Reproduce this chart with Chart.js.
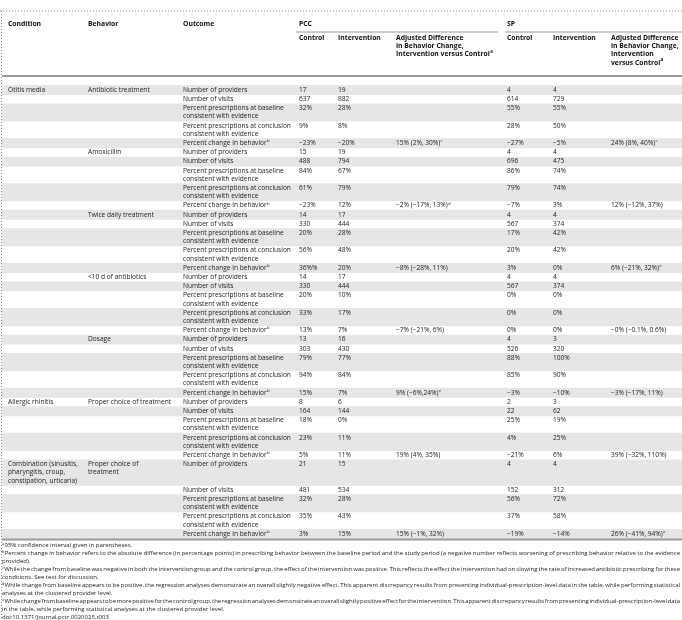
<!DOCTYPE html>
<html>
<head>
<meta charset="utf-8">
<script src="https://cdn.jsdelivr.net/npm/chart.js@4.4.1/dist/chart.umd.min.js"></script>
<style>
  html, body { margin: 0; padding: 0; background: #fff; }
  canvas { display: block; }
</style>
</head>
<body>
<canvas id="table" width="682" height="620"></canvas>
<script>
// table content, one entry per behavior block
const conditions = ['Otitis media', '', '', '', '', 'Allergic rhinitis', 'Combination (sinusitis,\npharyngitis, croup,\nconstipation, urticaria)'];
const behaviors = ['Antibiotic treatment', 'Amoxicillin', 'Twice daily treatment', '<10 d of antibiotics', 'Dosage', 'Proper choice of treatment', 'Proper choice of\ntreatment'];
const outcomes = [
  'Number of providers',
  'Number of visits',
  'Percent prescriptions at baseline\nconsistent with evidence',
  'Percent prescriptions at conclusion\nconsistent with evidence',
  'Percent change in behavior^b'
];
const pccControl = [
  ['17', '637', '32%', '9%', '\u221223%'],
  ['15', '488', '84%', '61%', '\u221223%'],
  ['14', '330', '20%', '56%', '36%%'],
  ['14', '330', '20%', '33%', '13%'],
  ['13', '303', '79%', '94%', '15%'],
  ['8', '164', '18%', '23%', '5%'],
  ['21', '481', '32%', '35%', '3%']
];
const pccIntervention = [
  ['19', '882', '28%', '8%', '\u221220%'],
  ['19', '794', '67%', '79%', '12%'],
  ['17', '444', '28%', '48%', '20%'],
  ['17', '444', '10%', '17%', '7%'],
  ['16', '430', '77%', '84%', '7%'],
  ['6', '144', '0%', '11%', '11%'],
  ['15', '534', '28%', '43%', '15%']
];
const pccAdjusted = [
  '15% (2%, 30%)^c', '\u22122% (\u221217%, 13%)^d', '\u22128% (\u221228%, 11%)', '\u22127% (\u221221%, 6%)',
  '9% (\u22126%,24%)^e', '19% (4%, 35%)', '15% (\u22121%, 32%)'
];
const spControl = [
  ['4', '614', '55%', '28%', '\u221227%'],
  ['4', '696', '86%', '79%', '\u22127%'],
  ['4', '567', '17%', '20%', '3%'],
  ['4', '567', '0%', '0%', '0%'],
  ['4', '526', '88%', '85%', '\u22123%'],
  ['2', '22', '25%', '4%', '\u221221%'],
  ['4', '152', '56%', '37%', '\u221219%']
];
const spIntervention = [
  ['4', '729', '55%', '50%', '\u22125%'],
  ['4', '475', '74%', '74%', '3%'],
  ['4', '374', '42%', '42%', '0%'],
  ['4', '374', '0%', '0%', '0%'],
  ['3', '320', '100%', '90%', '\u221210%'],
  ['3', '62', '19%', '25%', '6%'],
  ['4', '312', '72%', '58%', '\u221214%']
];
const spAdjusted = [
  '24% (8%, 40%)^c', '12% (\u221212%, 37%)', '6% (\u221221%, 32%)^e', '\u22120% (\u22120.1%, 0.6%)',
  '\u22123% (\u221217%, 11%)', '39% (\u221232%, 110%)', '26% (\u221241%, 94%)^e'
];
const groupHeaders = ['PCC', 'SP'];
const columnHeaders = [
  'Condition', 'Behavior', 'Outcome',
  'Control', 'Intervention', 'Adjusted Difference\nin Behavior Change,\nIntervention versus Control^a',
  'Control', 'Intervention', 'Adjusted Difference\nin Behavior Change,\nIntervention\nversus Control^a'
];
const footnotes = [
  ['a', ['95% confidence interval given in parentheses.']],
  ['b', ['Percent change in behavior refers to the absolute difference (in percentage points) in prescribing behavior between the baseline period and the study period (a negative number reflects worsening of prescribing behavior relative to the evidence',
         'provided).']],
  ['c', ['While the change from baseline was negative in both the intervention group and the control group, the effect of the intervention was positive. This reflects the effect the intervention had on slowing the rate of increased antibiotic prescribing for these',
         'conditions. See text for discussion.']],
  ['d', ['While change from baseline appears to be positive, the regression analyses demonstrate an overall slightly negative effect. This apparent discrepancy results from presenting individual-prescription-level data in the table, while performing statistical',
         'analyses at the clustered provider level.']],
  ['e', ['While change from baseline appears to be more positive for the control group, the regression analyses demonstrate an overall slightly positive effect for the intervention. This apparent discrepancy results from presenting individual-prescription-level data',
         'in the table, while performing statistical analyses at the clustered provider level.']]
];
const doiLabel = 'doi:10.1371/journal.pctr.0020025.t003';

// layout
const W = 682, H = 620;
const LINE = 8.2, PAD = 1.0, TABLE_TOP = 85.4;
const colX = [8, 88, 183, 299, 338, 396, 507, 553, 611];
const FONT = '"Open Sans", "DejaVu Sans", sans-serif';
const BODY_SIZE = 6.6, HEAD_SIZE = 6.8, NOTE_SIZE = 6.0;
const TEXT = '#1c1c1c';

// build rows from the arrays
const rows = [];
let cursor = TABLE_TOP;
conditions.forEach((cond, g) => {
  outcomes.forEach((out, r) => {
    const cells = [
      r === 0 ? cond : '',
      r === 0 ? behaviors[g] : '',
      out,
      pccControl[g][r],
      pccIntervention[g][r],
      r === 4 ? pccAdjusted[g] : '',
      spControl[g][r],
      spIntervention[g][r],
      r === 4 ? spAdjusted[g] : ''
    ];
    const lines = Math.max(...cells.map(c => c.split('\n').length));
    const height = lines * LINE + PAD;
    rows.push({ cells, top: cursor, height, center: cursor + height / 2 });
    cursor += height;
  });
});
const tableBottom = cursor;

// shaded bands: every other row, grouped by row height
const bandSets = {};
rows.forEach((row, i) => {
  if (i % 2 !== 0) return;
  const key = row.height.toFixed(2);
  if (!bandSets[key]) bandSets[key] = [];
  bandSets[key].push({ y: row.center, x: [2, W] });
});
const datasets = Object.keys(bandSets).map(key => ({
  data: bandSets[key],
  backgroundColor: '#e6e6e6',
  borderWidth: 0,
  barThickness: parseFloat(key),
  grouped: false
}));

function drawText(ctx, text, x, y, size, weight, color) {
  const parts = text.split('^');
  ctx.fillStyle = color;
  ctx.textBaseline = 'middle';
  ctx.font = `${weight} ${size}px ${FONT}`;
  ctx.fillText(parts[0], x, y);
  if (parts[1]) {
    const w = ctx.measureText(parts[0]).width;
    ctx.font = `${weight} ${size * 0.65}px ${FONT}`;
    ctx.fillText(parts[1], x + w + 0.3, y - size * 0.35);
  }
}

function drawCell(ctx, sx, sy, text, col, top, size, weight, color) {
  if (!text) return;
  text.split('\n').forEach((line, i) => {
    const yv = top + PAD / 2 + LINE * (i + 0.5);
    drawText(ctx, line, sx.getPixelForValue(colX[col]), sy.getPixelForValue(yv), size, weight, color);
  });
}

function hline(ctx, sx, sy, x0, x1, yv, width, color, dash) {
  ctx.save();
  ctx.strokeStyle = color;
  ctx.lineWidth = width;
  ctx.setLineDash(dash || []);
  ctx.beginPath();
  ctx.moveTo(sx.getPixelForValue(x0), sy.getPixelForValue(yv));
  ctx.lineTo(sx.getPixelForValue(x1), sy.getPixelForValue(yv));
  ctx.stroke();
  ctx.restore();
}

// justified footnote line
function drawJustified(ctx, sx, sy, text, x0, x1, yv, justify) {
  ctx.font = `${NOTE_SIZE}px ${FONT}`;
  ctx.fillStyle = TEXT;
  ctx.textBaseline = 'middle';
  const words = text.split(' ');
  const total = words.reduce((s, w) => s + ctx.measureText(w).width, 0);
  const space = ctx.measureText(' ').width;
  const gap = justify && words.length > 1 ? (x1 - x0 - total) / (words.length - 1) : space;
  let x = sx.getPixelForValue(x0);
  const y = sy.getPixelForValue(yv);
  words.forEach(w => {
    ctx.fillText(w, x, y);
    x += ctx.measureText(w).width + gap;
  });
}

const tablePainter = {
  id: 'tablePainter',
  afterDatasetsDraw(chart) {
    const { ctx, scales: { x: sx, y: sy } } = chart;
    ctx.save();

    // dotted frame
    hline(ctx, sx, sy, 0, W, 11, 1, '#8a8a8a', [1, 2]);
    ctx.strokeStyle = '#8a8a8a';
    ctx.setLineDash([1, 2]);
    ctx.beginPath();
    ctx.moveTo(sx.getPixelForValue(1.5), sy.getPixelForValue(11));
    ctx.lineTo(sx.getPixelForValue(1.5), sy.getPixelForValue(H));
    ctx.stroke();
    ctx.setLineDash([]);

    // headers
    [0, 1, 2].forEach(c => drawCell(ctx, sx, sy, columnHeaders[c], c, 24 - LINE / 2 - PAD / 2, HEAD_SIZE, 'bold', '#111'));
    drawCell(ctx, sx, sy, groupHeaders[0], 3, 24 - LINE / 2 - PAD / 2, HEAD_SIZE, 'bold', '#111');
    drawCell(ctx, sx, sy, groupHeaders[1], 6, 24 - LINE / 2 - PAD / 2, HEAD_SIZE, 'bold', '#111');
    hline(ctx, sx, sy, 296, 498, 32, 1, '#999');
    hline(ctx, sx, sy, 505, W, 32, 1, '#999');
    for (let c = 3; c < 9; c++) {
      drawCell(ctx, sx, sy, columnHeaders[c], c, 38 - LINE / 2 - PAD / 2, HEAD_SIZE, 'bold', '#111');
    }
    hline(ctx, sx, sy, 2, W, 76, 2, '#9a9a9a');

    // body
    rows.forEach(row => {
      row.cells.forEach((text, c) => drawCell(ctx, sx, sy, text, c, row.top, BODY_SIZE, 'normal', TEXT));
    });
    hline(ctx, sx, sy, 2, W, tableBottom + 1, 2, '#9a9a9a');

    // footnotes
    let yv = tableBottom + 7;
    const noteStep = 8.0;
    footnotes.forEach(([mark, lines]) => {
      lines.forEach((line, i) => {
        let x0 = 2;
        if (i === 0) {
          ctx.font = `${NOTE_SIZE * 0.65}px ${FONT}`;
          ctx.fillStyle = TEXT;
          ctx.textBaseline = 'middle';
          ctx.fillText(mark, sx.getPixelForValue(x0), sy.getPixelForValue(yv - NOTE_SIZE * 0.35));
          x0 += ctx.measureText(mark).width + 0.3;
        }
        drawJustified(ctx, sx, sy, line, x0, 680, yv, i < lines.length - 1);
        yv += noteStep;
      });
    });
    drawJustified(ctx, sx, sy, doiLabel, 2, 680, yv, false);

    ctx.restore();
  }
};

new Chart(document.getElementById('table'), {
  type: 'bar',
  data: { datasets },
  options: {
    indexAxis: 'y',
    responsive: false,
    animation: false,
    devicePixelRatio: 1,
    layout: { padding: 0 },
    plugins: {
      legend: { display: false },
      tooltip: { enabled: false }
    },
    scales: {
      x: { type: 'linear', min: 0, max: W, display: false, offset: false },
      y: { type: 'linear', min: 0, max: H, reverse: true, display: false, offset: false }
    }
  },
  plugins: [tablePainter]
});
</script>
</body>
</html>
